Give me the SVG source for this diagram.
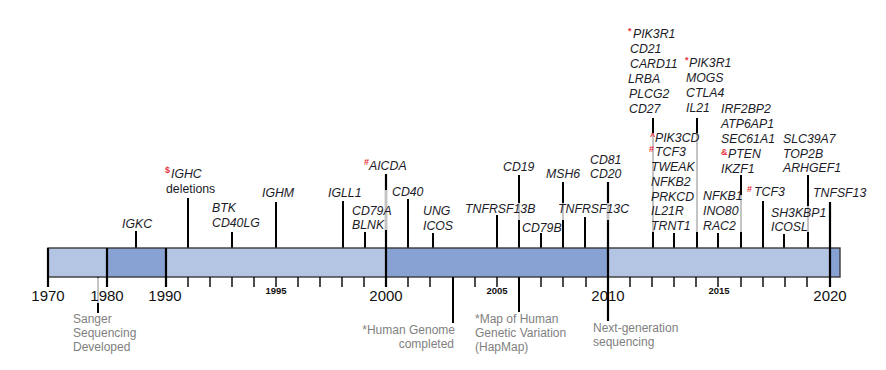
<svg xmlns="http://www.w3.org/2000/svg" width="886" height="370" viewBox="0 0 886 370">
<style>
.g{font-family:"Liberation Sans",Arial,sans-serif;font-size:12.3px;font-style:italic;fill:#1c1c28}
.n{font-family:"Liberation Sans",Arial,sans-serif;font-size:12.3px;fill:#1c1c28}
.r{font-family:"Liberation Sans",Arial,sans-serif;font-size:9px;font-weight:bold;fill:#e8323a;font-style:normal}
.ev{font-family:"Liberation Sans",Arial,sans-serif;font-size:12px;fill:#7f7f80}
.yr{font-family:"Liberation Sans",Arial,sans-serif;font-size:15px;fill:#111;text-anchor:middle}
.ys{font-family:"Liberation Sans",Arial,sans-serif;font-size:9.5px;font-weight:bold;fill:#111;text-anchor:middle}
.ln{stroke:#000;stroke-width:2;fill:none}
.gr{stroke:#c4c4c4;stroke-width:2;fill:none}
.mj{stroke:#000;stroke-width:2.2;fill:none}
.tk{stroke:#000;stroke-width:1.4;fill:none}
.lt{fill:#b3c5e2}
.dk{fill:#87a2d2}
</style>
<g id="connectors">
<path class="ln" d="M136 231V248M188 198V248M232 232V248M276 202V248M343 201V248M365 232V248M408 199V248M433 233V248M497 215V248M519 175V248M519 277V312M541 233V248M563 182V248M585 217V248M653 118V248M674 233V248M697 118V248M718 233V248M741 175V248M763 201V248M784 234V248M808 175V248M98 277V313M453 277V323"/>
</g>
<g id="timeline-bar">
<rect class="lt" x="48" y="248" width="59" height="29"/>
<rect class="dk" x="107" y="248" width="59" height="29"/>
<rect class="lt" x="166" y="248" width="220" height="29"/>
<rect class="dk" x="386" y="248" width="222" height="29"/>
<rect class="lt" x="608" y="248" width="222" height="29"/>
<rect class="dk" x="830" y="248" width="10" height="29"/>
<rect x="48" y="248" width="792" height="29" fill="none" stroke="#3a3a3a" stroke-width="1.4"/>
</g>
<g id="major-lines">
<path class="mj" d="M48 248V287M107 248V287M166 248V287M386 174V287M608 182V321M830 202V287"/>
</g>
<g id="ticks">
<path class="tk" d="M188 277V287M210 277V287M232 277V287M254 277V287M276 277V287M298 277V287M320 277V287M342 277V287M364 277V287M408 277V287M430 277V287M453 277V287M475 277V287M497 277V287M519 277V287M541 277V287M563 277V287M586 277V287M630 277V287M652 277V287M674 277V287M696 277V287M718 277V287M741 277V287M763 277V287M785 277V287M807 277V287"/>
</g>
<g id="occluded-segments">
<path class="gr" d="M386 190V230M519 203V220M563 203V220M608 203V220M653 133V232M697 133V232M741 195V232M808 206V232M98 278V303"/>
</g>
<g id="year-labels">
<text class="yr" x="48" y="301">1970</text>
<text class="yr" x="107" y="301">1980</text>
<text class="yr" x="165" y="301">1990</text>
<text class="yr" x="386" y="301">2000</text>
<text class="yr" x="608" y="301">2010</text>
<text class="yr" x="830" y="301">2020</text>
<text class="ys" x="276" y="294">1995</text>
<text class="ys" x="497" y="294">2005</text>
<text class="ys" x="719" y="294">2015</text>
</g>
<g id="node-igkc"><text class="g" x="122" y="228">IGKC</text></g>
<g id="node-ighc"><text class="r" x="165" y="173">$</text><text class="g" x="171" y="178">IGHC</text><text class="n" x="166" y="193">deletions</text></g>
<g id="node-btk"><text class="g" x="212" y="212">BTK</text><text class="g" x="212" y="227">CD40LG</text></g>
<g id="node-ighm"><text class="g" x="262" y="197">IGHM</text></g>
<g id="node-igll1"><text class="g" x="328" y="197">IGLL1</text></g>
<g id="node-aicda"><text class="r" x="364" y="165">#</text><text class="g" x="369" y="170">AICDA</text></g>
<g id="node-cd79a"><text class="g" x="352" y="215">CD79A</text><text class="g" x="352" y="229">BLNK</text></g>
<g id="node-cd40"><text class="g" x="392" y="196">CD40</text></g>
<g id="node-ung"><text class="g" x="423" y="215">UNG</text><text class="g" x="423" y="230">ICOS</text></g>
<g id="node-cd19"><text class="g" x="503" y="171">CD19</text></g>
<g id="node-tnfrsf13b"><text class="g" x="465" y="213">TNFRSF13B</text></g>
<g id="node-cd79b"><text class="g" x="522" y="232">CD79B</text></g>
<g id="node-msh6"><text class="g" x="546" y="178">MSH6</text></g>
<g id="node-tnfrsf13c"><text class="g" x="558" y="213">TNFRSF13C</text></g>
<g id="node-cd81"><text class="g" x="590" y="164">CD81</text><text class="g" x="590" y="178">CD20</text></g>
<g id="node-pik3r1-a"><text class="r" x="628" y="34">*</text><text class="g" x="633" y="38">PIK3R1</text><text class="g" x="630" y="53">CD21</text><text class="g" x="630" y="68">CARD11</text><text class="g" x="628" y="83">LRBA</text><text class="g" x="629" y="98">PLCG2</text><text class="g" x="629" y="113">CD27</text></g>
<g id="node-pik3r1-b"><text class="r" x="685" y="63">*</text><text class="g" x="689" y="67">PIK3R1</text><text class="g" x="686" y="82">MOGS</text><text class="g" x="686" y="97">CTLA4</text><text class="g" x="686" y="112">IL21</text></g>
<g id="node-pik3cd"><text class="r" x="650" y="139">^</text><text class="g" x="655" y="142">PIK3CD</text><text class="r" x="649" y="152">#</text><text class="g" x="655" y="156">TCF3</text><text class="g" x="651" y="171">TWEAK</text><text class="g" x="651" y="186">NFKB2</text><text class="g" x="651" y="201">PRKCD</text><text class="g" x="651" y="215">IL21R</text><text class="g" x="651" y="230">TRNT1</text></g>
<g id="node-nfkb1"><text class="g" x="703" y="200">NFKB1</text><text class="g" x="703" y="215">INO80</text><text class="g" x="703" y="230">RAC2</text></g>
<g id="node-irf2bp2"><text class="g" x="721" y="113">IRF2BP2</text><text class="g" x="721" y="128">ATP6AP1</text><text class="g" x="721" y="143">SEC61A1</text><text class="r" x="721" y="155">&amp;</text><text class="g" x="728" y="158">PTEN</text><text class="g" x="721" y="173">IKZF1</text></g>
<g id="node-tcf3"><text class="r" x="747" y="192">#</text><text class="g" x="754" y="196">TCF3</text></g>
<g id="node-sh3kbp1"><text class="g" x="771" y="217">SH3KBP1</text><text class="g" x="771" y="231">ICOSL</text></g>
<g id="node-slc39a7"><text class="g" x="783" y="143">SLC39A7</text><text class="g" x="783" y="158">TOP2B</text><text class="g" x="783" y="172">ARHGEF1</text></g>
<g id="node-tnfsf13"><text class="g" x="813" y="197">TNFSF13</text></g>
<g id="event-sanger"><text class="ev" x="73" y="323">Sanger</text><text class="ev" x="73" y="337">Sequencing</text><text class="ev" x="73" y="351">Developed</text></g>
<g id="event-genome"><text class="ev" x="455" y="334" text-anchor="end">*Human Genome</text><text class="ev" x="454" y="348" text-anchor="end">completed</text></g>
<g id="event-hapmap"><text class="ev" x="475" y="323">*Map of Human</text><text class="ev" x="475" y="337">Genetic Variation</text><text class="ev" x="475" y="351">(HapMap)</text></g>
<g id="event-ngs"><text class="ev" x="593" y="332">Next-generation</text><text class="ev" x="593" y="346">sequencing</text></g>
</svg>
